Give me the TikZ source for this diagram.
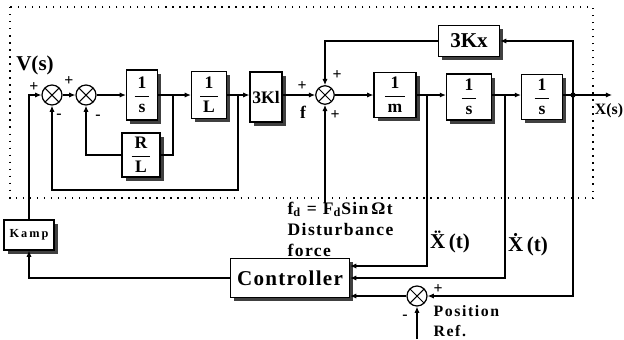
\documentclass[tikz,border=0pt]{standalone}
\usepackage{fontspec}
\setmainfont{Liberation Serif}
\usetikzlibrary{arrows.meta,shadows}

\newcommand{\blkfrac}[2]{$\displaystyle\frac{\,\textbf{#1}\,}{\,\textbf{#2}\,}$}

\tikzset{
  blk/.style={draw, fill=white, line width=0.7pt, inner sep=1pt, font=\bfseries,
    drop shadow={shadow xshift=2.2pt, shadow yshift=-2.2pt, fill=black!75, opacity=1}},
  summer/.style={draw, circle, fill=white, line width=0.7pt, minimum size=0.4cm, inner sep=0pt,
    path picture={\draw[line width=0.6pt]
      (path picture bounding box.north west) -- (path picture bounding box.south east)
      (path picture bounding box.north east) -- (path picture bounding box.south west);}},
  sig/.style={line width=0.7pt, -{Latex[length=3.5pt,width=3pt]}},
  sgn/.style={font=\bfseries\small, inner sep=0pt},
  lbl/.style={font=\bfseries, inner sep=0pt},
  spaced/.style={font=\bfseries\addfontfeature{LetterSpace=8}, inner sep=0pt},
}

\begin{document}
\begin{tikzpicture}[x=0.02cm, y=-0.02cm, line width=0.7pt]
  \useasboundingbox (0,0) rectangle (624,339);
  % frame of the plant
  \draw[line width=0.6pt, dash pattern=on 0.8pt off 3.2pt] (10,7) rectangle (593,198);

  % summing points
  \node[summer] (s1) at (52,95) {};
  \node[summer] (s2) at (86,95) {};
  \node[summer, minimum size=0.37cm] (s3) at (325,95) {};
  \node[summer] (s4) at (417,296) {};

  % blocks
  \node[blk, minimum width=0.62cm, minimum height=1cm] (bs1) at (142,95) {\blkfrac{1}{s}};
  \node[blk, minimum width=0.7cm, minimum height=0.94cm] (bL) at (209,95) {\blkfrac{1}{L}};
  \node[blk, minimum width=0.64cm, minimum height=1cm] (bK) at (266,97) {3Kl};
  \node[blk, minimum width=0.76cm, minimum height=0.88cm] (bRL) at (141,155) {\blkfrac{R}{L}};
  \node[blk, minimum width=0.84cm, minimum height=0.9cm] (bm) at (395,95) {\blkfrac{1}{m}};
  \node[blk, minimum width=0.9cm, minimum height=0.92cm] (bs2) at (469,97) {\blkfrac{1}{s}};
  \node[blk, minimum width=0.82cm, minimum height=0.9cm] (bs3) at (542,97) {\blkfrac{1}{s}};
  \node[blk, minimum width=1.22cm, minimum height=0.62cm, font=\bfseries\large] (bKx) at (469,41) {3Kx};
  \node[blk, minimum width=2.38cm, minimum height=0.78cm, font=\bfseries\large\addfontfeature{LetterSpace=6}] (ctrl) at (290,278) {Controller};
  \node[blk, minimum width=1cm, minimum height=0.6cm, font=\bfseries\scriptsize] (kamp) at (29,235) {K\,a\,m\,p};

  % branch points
  \coordinate (tap1) at (173,95);
  \coordinate (tap2) at (238,95);
  \coordinate (tap3) at (427,95);
  \coordinate (tap4) at (505,95);
  \coordinate (tap5) at (573,95);
  \coordinate (lowL) at (238,190);
  \coordinate (xout) at (612,95);
  \coordinate (fdist) at (325,203);
  \coordinate (posref) at (417,339);

  % forward path
  \draw[sig] (kamp.north) |- (s1.west);
  \draw[sig] (s1) -- (s2);
  \draw[sig] (s2) -- (bs1);
  \draw[sig] (bs1) -- (bL);
  \draw[sig] (bL.east |- tap2) -- (bK.west |- tap2);
  \draw[sig] (bK.east |- s3) -- (s3);
  \draw[sig] (s3) -- (bm);
  \draw[sig] (bm) -- (bs2.west |- bm);
  \draw[sig] (bs2.east |- bm) -- (bs3.west |- bm);
  \draw[sig] (bs3.east |- bm) -- (xout);
  \fill (tap5) circle (1.5pt);

  % inner loops
  \draw (tap1) |- (bRL.east);
  \draw[sig] (bRL.west) -| (s2.south);
  \draw[sig] (tap2) -- (lowL) -| (s1.south);
  \draw[sig] (tap5) |- (bKx.east);
  \draw[sig] (bKx.west) -| (s3.north);
  \draw[sig] (fdist) -- (s3.south);

  % measurements to controller
  \draw[sig] (tap3) |- ([yshift=0.24cm]ctrl.east);
  \draw[sig] (tap4) |- (ctrl.east);
  \draw[sig] (tap5) |- (s4.east);
  \draw[sig] (s4.west) -- (s4 -| ctrl.east);
  \draw[sig] (posref) -- (s4.south);
  \draw[sig] (ctrl.west) -| (kamp.south);

  % labels
  \node[lbl, font=\bfseries\large] at (35,65) {V(s)};
  \node[sgn] at (34,87) {+};
  \node[sgn] at (59,116) {-};
  \node[sgn] at (69,81) {+};
  \node[sgn] at (98,117) {-};
  \node[sgn] at (302,86) {+};
  \node[lbl] at (303,112) {f};
  \node[sgn] at (337,75) {+};
  \node[sgn] at (335,115) {+};
  \node[sgn] at (438,289) {+};
  \node[sgn] at (405,317) {-};
  \node[lbl, font=\bfseries\small] at (609,111) {X(s)};
  \node[lbl, font=\bfseries\large] at (450,242) {\"{X}\,(t)};
  \node[lbl, font=\bfseries\large] at (528,245) {\.{X}\,(t)};
  \node[spaced, anchor=west, align=left] at (287,229)
    {f\textsubscript{d} = F\textsubscript{d}Sin\,Ωt\\Disturbance\\force};
  \node[spaced, anchor=west, align=left, font=\bfseries\small\addfontfeature{LetterSpace=10}] at (433,321)
    {Position\\Ref.};
\end{tikzpicture}
\end{document}
